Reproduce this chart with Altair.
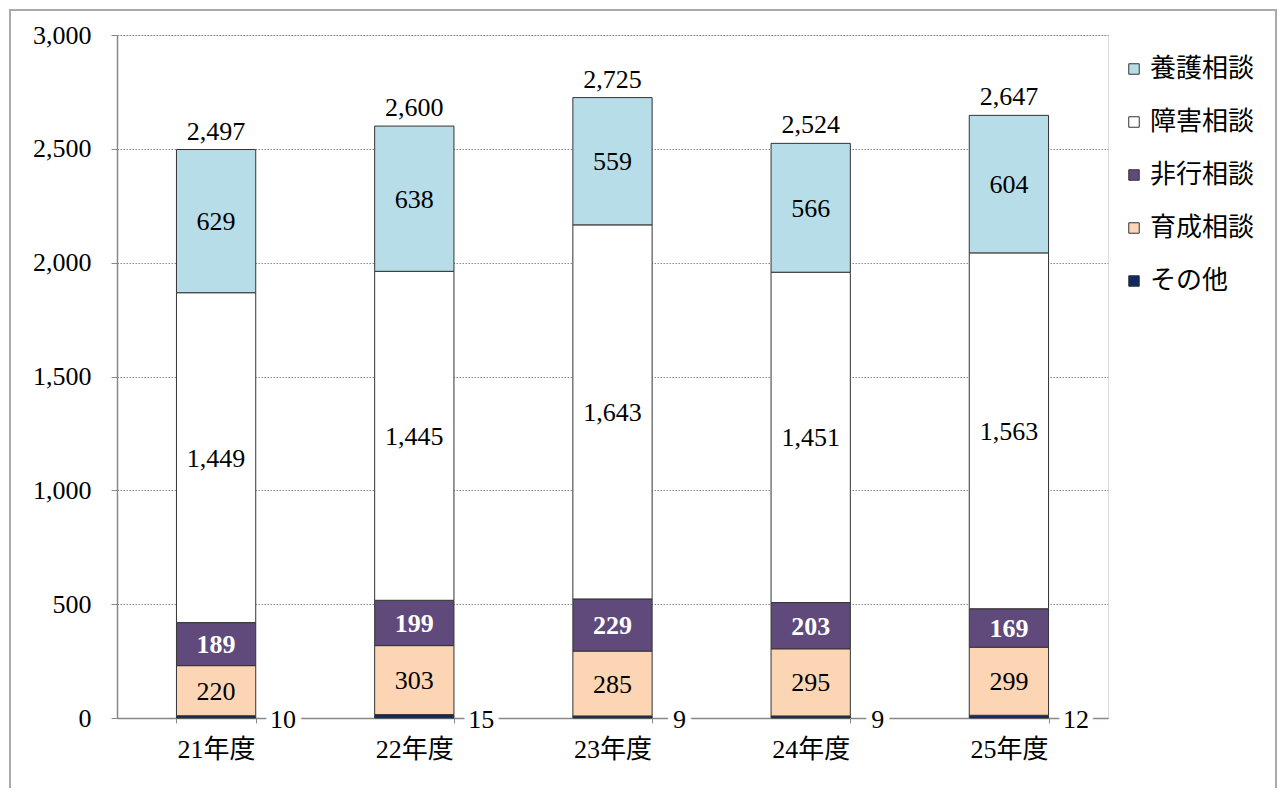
import altair as alt
import pandas as pd

years = ["21年度", "22年度", "23年度", "24年度", "25年度"]
cats = ["その他", "育成相談", "非行相談", "障害相談", "養護相談"]
other = [10, 15, 9, 9, 12]
ikusei = [220, 303, 285, 295, 299]
hikou = [189, 199, 229, 203, 169]
shougai = [1449, 1445, 1643, 1451, 1563]
yougo = [629, 638, 559, 566, 604]
colors = ["#0F2A60", "#FCD5B5", "#604A7B", "#FFFFFF", "#B7DDE8"]

series = [other, ikusei, hikou, shougai, yougo]
rows = []
for i, y in enumerate(years):
    base = 0
    for k, c in enumerate(cats):
        v = series[k][i]
        rows.append({"year": y, "cat": c, "val": v, "ord": k,
                     "y0": base, "y1": base + v, "mid": base + v / 2})
        base += v
df = pd.DataFrame(rows)
tot = df.groupby("year", as_index=False)["val"].sum().rename(columns={"val": "total"})

W, H = 991, 683
serif = "Liberation Serif, Noto Sans CJK JP"
sans = "Noto Sans CJK JP"
FS = 26
legend_order = cats[::-1]
color_scale = alt.Scale(domain=legend_order, range=colors[::-1])

xenc = alt.X("year:N", sort=years, title=None,
             scale=alt.Scale(paddingInner=0.6, paddingOuter=0.3),
             axis=alt.Axis(labelAngle=0, labelFont=serif, labelFontSize=FS,
                           labelColor="#000", domainColor="#888", domainWidth=1.5,
                           tickColor="#888", tickSize=5, tickBand="extent",
                           labelPadding=13, grid=False))
yscale = alt.Scale(domain=[0, 3000], nice=False)
yaxis = alt.Axis(values=[0, 500, 1000, 1500, 2000, 2500, 3000],
                 labelExpr="format(datum.value, ',')",
                 labelFont=serif, labelFontSize=FS, labelColor="#000",
                 domainColor="#888", domainWidth=1.5, tickColor="#888",
                 tickSize=6, labelPadding=20,
                 gridColor="#888", gridDash=[1.5, 1.5], gridWidth=1)

frame = alt.Chart(tot).mark_rect(fill=None, stroke="#aaa", strokeWidth=2).encode(
    x=alt.value(-107), x2=alt.value(W + 168), y=alt.value(-25), y2=alt.value(H + 120))

bars = alt.Chart(df).mark_bar(stroke="#333", strokeWidth=1).encode(
    x=xenc,
    y=alt.Y("y0:Q", scale=yscale, title=None, axis=yaxis),
    y2="y1:Q",
    color=alt.Color("cat:N", scale=color_scale, sort=legend_order,
                    legend=alt.Legend(title=None, orient="none", legendX=1004, legendY=21,
                                      symbolType="square", symbolSize=110,
                                      symbolStrokeColor="#333", symbolStrokeWidth=1,
                                      labelFont=sans, labelFontSize=FS, labelColor="#000",
                                      rowPadding=27, padding=0, labelOffset=3)),
    order=alt.Order("ord:Q"),
)

inner = df[df["cat"].isin(["育成相談", "障害相談", "養護相談"])]
lab_black = alt.Chart(inner).mark_text(font=serif, fontSize=FS, color="#000", dy=1).encode(
    x=alt.X("year:N", sort=years), y=alt.Y("mid:Q", scale=yscale, axis=yaxis),
    text=alt.Text("val:Q", format=","))

lab_white = alt.Chart(df[df["cat"] == "非行相談"]).mark_text(
    font=serif, fontSize=FS, color="#fff", fontWeight="bold", dy=1).encode(
    x=alt.X("year:N", sort=years), y=alt.Y("mid:Q", scale=yscale, axis=yaxis),
    text=alt.Text("val:Q", format=","))

oth = df[df["cat"] == "その他"]
oth_bg = alt.Chart(oth).mark_text(font=serif, fontSize=FS, fill="#fff", stroke="#fff",
                                  strokeWidth=12, dx=67, dy=2).encode(
    x=alt.X("year:N", sort=years), y=alt.value(H), text=alt.Text("val:Q"))
oth_lab = alt.Chart(oth).mark_text(font=serif, fontSize=FS, color="#000", dx=67, dy=2).encode(
    x=alt.X("year:N", sort=years), y=alt.value(H), text=alt.Text("val:Q"))

tot_lab = alt.Chart(tot).mark_text(font=serif, fontSize=FS, color="#000",
                                   baseline="bottom", dy=-5).encode(
    x=alt.X("year:N", sort=years), y=alt.Y("total:Q", scale=yscale, axis=yaxis),
    text=alt.Text("total:Q", format=","))

chart = alt.layer(frame, bars, lab_black, lab_white, oth_bg, oth_lab, tot_lab).properties(
    width=W, height=H,
    autosize=alt.AutoSizeParams(type="none"),
    padding={"left": 109, "top": 27, "right": 170, "bottom": 70},
).configure_view(stroke=None).configure(background="white")

chart.save("out.html", embed_options={"renderer": "svg", "actions": False})
